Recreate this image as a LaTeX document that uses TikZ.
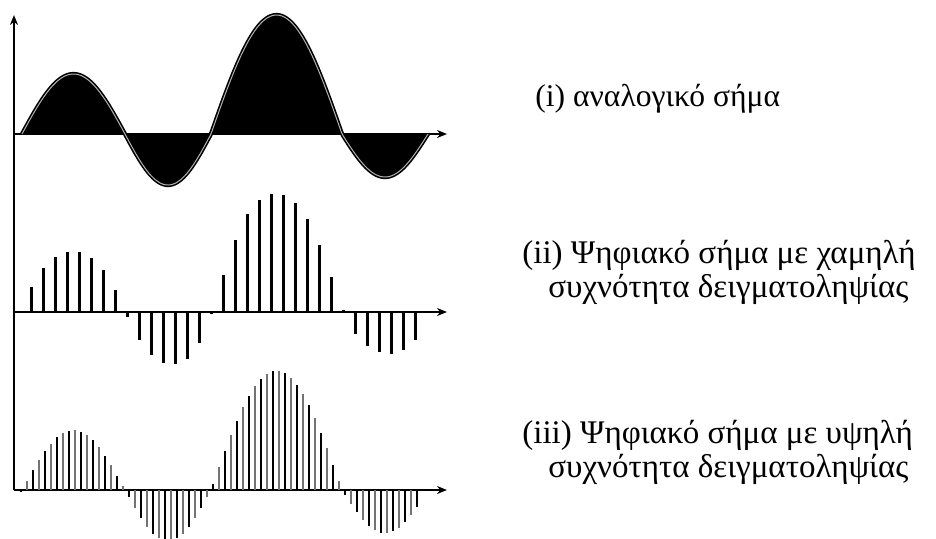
\documentclass[tikz,border=0pt]{standalone}
\usepackage{fontspec}
\setmainfont{Liberation Serif}
\usetikzlibrary{arrows.meta}

\begin{document}
\begin{tikzpicture}[x=0.5pt,y=-0.5pt,>={Stealth[length=5pt,width=4pt]},
  declare function={sig(\t)=(\t<125)?(60*sin(((\t-22)/103)*180)):((\t<211)?(-51*sin(((\t-125)/86)*180)):((\t<342)?(119*sin(((\t-211)/131)*180)):(-43*sin(((\t-342)/86)*180))));},
  axis/.style={line width=1pt,->},
  label/.style={anchor=base west,inner sep=0pt,font=\fontsize{16.5}{19}\selectfont}]
  \useasboundingbox (0,0) rectangle (936,538);
  % axes
  \draw[axis] (14,490) -- (14,15);
  \foreach \y in {134,312,490}
    \draw[axis] (14,\y) -- (447,\y);
  % (i) analogue signal
  \fill (22,134) -- plot[domain=22:428,samples=240] (\x,{134-sig(\x)}) -- cycle;
  \draw[line width=0.8pt,double=gray!60,double distance=0.5pt]
    plot[domain=22:428,samples=240] (\x,{134-sig(\x)});
  % (ii) low sampling rate
  \foreach \x/\h in {31/25,43/44,55/55,67/60,79/60,91/54,103/42,115/22,127/-5,
      139/-28,151/-43,163/-51,175/-52,187/-47,199/-31,211/-2,223/37,235/72,
      247/98,259/112,271/118,283/117,295/109,307/93,319/67,331/35,343/2,
      355/-22,367/-34,379/-40,391/-42,403/-38,415/-28}
    \draw[line width=1.5pt] (\x,312) -- (\x,{312-\h});
  % (iii) high sampling rate
  \foreach \k in {0,...,66}{
    \pgfmathsetmacro\xs{21+6*\k}
    \ifodd\k \def\barcol{black!55}\else\def\barcol{black}\fi
    \draw[line width=1.1pt,\barcol] (\xs,490) -- (\xs,{490-sig(\xs)});
  }
  % labels
  \node[label,font=\fontsize{15.8}{19}\selectfont] (lab1) at (535,106) {(i) αναλογικό σήμα};
  \node[label] (lab2a) at (522,263) {(ii) Ψηφιακό σήμα με χαμηλή};
  \node[label] (lab2b) at (548,297) {συχνότητα δειγματοληψίας};
  \node[label] (lab3a) at (522,443) {(iii) Ψηφιακό σήμα με υψηλή};
  \node[label] (lab3b) at (548,477) {συχνότητα δειγματοληψίας};
\end{tikzpicture}
\end{document}
